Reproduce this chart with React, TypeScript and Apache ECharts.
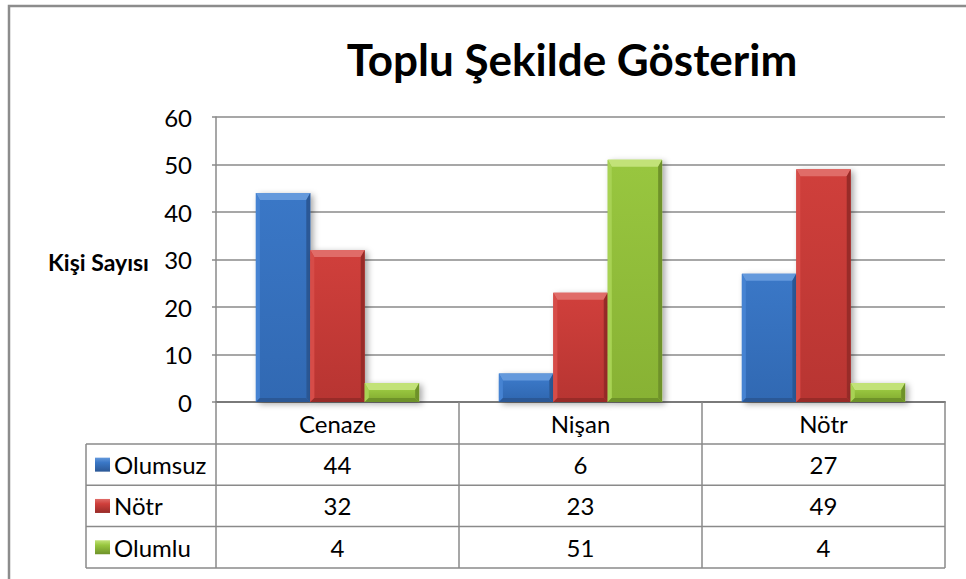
import React, { useEffect, useRef } from 'react';
import * as echarts from 'echarts';

const categories = ['Cenaze', 'Nişan', 'Nötr'];
const seriesNames = ['Olumsuz', 'Nötr', 'Olumlu'];
const olumsuzValues = [44, 6, 27];
const notrValues = [32, 23, 49];
const olumluValues = [4, 51, 4];
const chartTitle = 'Toplu Şekilde Gösterim';
const yAxisTitle = 'Kişi Sayısı';

const FONT = 'Lato, "Open Sans", sans-serif';
const LINE = '#8a8a8a';
const FS = 24;

const palettes = [
  { base: '#3a77c6', top: '#6499dc', left: '#4683d2', dark: '#2b5896', lo: '#3169b3' },
  { base: '#cf3f3b', top: '#e06c68', left: '#d64c48', dark: '#982b28', lo: '#b83532' },
  { base: '#98c63f', top: '#c2e278', left: '#a8d254', dark: '#6e9229', lo: '#88b234' },
];

const GRID = { left: 216, right: 21, top: 117, bottom: 177 };
const BAR_FRAC = 0.672;

function bevelBar(idx: number) {
  const pal = palettes[idx];
  return (params: any, api: any) => {
    const cat = api.value(0);
    const val = api.value(1);
    const p0 = api.coord([cat, 0]);
    const p1 = api.coord([cat, val]);
    const catW = api.size([1, 0])[0];
    const barW = (catW * BAR_FRAC) / 3;
    const x0 = p0[0] - 1.5 * barW + idx * barW;
    const x1 = x0 + barW;
    const yT = p1[1];
    const yB = p0[1];
    const h = yB - yT;
    const bt = Math.min(7, h / 2.6);
    const bs = Math.min(4, barW / 3);
    return {
      type: 'group',
      children: [
        {
          type: 'rect',
          shape: { x: x0, y: yT, width: barW, height: h },
          style: {
            fill: pal.base,
            shadowBlur: 6,
            shadowOffsetX: 3,
            shadowOffsetY: 2,
            shadowColor: 'rgba(0,0,0,0.35)',
          },
        },
        {
          type: 'rect',
          shape: { x: x0 + bs, y: yT + bt, width: barW - 2 * bs, height: Math.max(0, h - bt - bs) },
          style: {
            fill: {
              type: 'linear', x: 0, y: 0, x2: 0, y2: 1,
              colorStops: [
                { offset: 0, color: pal.base },
                { offset: 1, color: pal.lo },
              ],
            },
          },
        },
        {
          type: 'polygon',
          shape: { points: [[x0, yT], [x1, yT], [x1 - bs, yT + bt], [x0 + bs, yT + bt]] },
          style: { fill: pal.top },
        },
        {
          type: 'polygon',
          shape: { points: [[x0, yT], [x0 + bs, yT + bt], [x0 + bs, yB - bs], [x0, yB]] },
          style: { fill: pal.left },
        },
        {
          type: 'polygon',
          shape: { points: [[x1, yT], [x1, yB], [x1 - bs, yB - bs], [x1 - bs, yT + bt]] },
          style: { fill: pal.dark },
        },
        {
          type: 'polygon',
          shape: { points: [[x0, yB], [x0 + bs, yB - bs], [x1 - bs, yB - bs], [x1, yB]] },
          style: { fill: pal.dark },
        },
      ],
    };
  };
}

export default function App() {
  const ref = useRef<HTMLDivElement>(null);
  useEffect(() => {
    if (!ref.current) return;
    const chart = echarts.init(ref.current, undefined, { renderer: 'svg' });
    const allValues = [olumsuzValues, notrValues, olumluValues];
    const option: any = {
      animation: false,
      backgroundColor: '#ffffff',
      title: {
        text: chartTitle,
        left: 567,
        top: 32,
        textAlign: 'center',
        textStyle: { fontFamily: FONT, fontWeight: 'bold', fontSize: 44, color: '#000' },
      },
      grid: GRID,
      xAxis: {
        type: 'category',
        data: categories,
        axisLine: { show: true, lineStyle: { color: '#7a7a7a', width: 2 } },
        axisTick: { show: false },
        axisLabel: { show: false },
        splitLine: { show: false },
      },
      yAxis: {
        type: 'value',
        min: 0,
        max: 60,
        interval: 10,
        axisLine: { show: true, lineStyle: { color: LINE, width: 1.5 } },
        axisTick: { show: true, length: 4, lineStyle: { color: LINE, width: 1.5 } },
        axisLabel: { fontFamily: FONT, fontSize: FS, color: '#000', margin: 24 },
        splitLine: { show: true, lineStyle: { color: LINE, width: 1.5 } },
      },
      series: allValues.map((vals, idx) => ({
        type: 'custom',
        name: seriesNames[idx],
        data: vals.map((v, i) => [i, v]),
        encode: { x: 0, y: 1 },
        renderItem: bevelBar(idx),
        z: 3,
      })),
    };
    chart.setOption(option);

    const c0 = chart.convertToPixel({ xAxisIndex: 0 }, 0) as number;
    const c1 = chart.convertToPixel({ xAxisIndex: 0 }, 1) as number;
    const colW = c1 - c0;
    const yZero = chart.convertToPixel({ yAxisIndex: 0 }, 0) as number;
    const plotLeft = c0 - colW / 2;
    const plotRight = plotLeft + colW * categories.length;
    const headerH = 42;
    const rowH = 41.3;
    const legLeft = 86;
    const tableBottom = yZero + headerH + rowH * seriesNames.length;

    const g: any[] = [];
    g.push({
      type: 'rect',
      shape: { x: 9, y: 6, width: 1000, height: 1000 },
      style: { fill: 'none', stroke: '#8c8c8c', lineWidth: 2.5 },
      z: 0,
    });
    g.push({
      type: 'text',
      x: 149,
      y: (GRID.top + yZero) / 2 + 2,
      style: {
        text: yAxisTitle, fontFamily: FONT, fontWeight: 'bold', fontSize: 23,
        fill: '#000', align: 'right', verticalAlign: 'middle',
      },
    });
    const line = (x1: number, y1: number, x2: number, y2: number) => ({
      type: 'line',
      shape: { x1, y1, x2, y2 },
      style: { stroke: LINE, lineWidth: 1.5 },
      z: 5,
    });
    for (let i = 0; i <= categories.length; i++) {
      const x = plotLeft + colW * i;
      g.push(line(x, yZero, x, tableBottom));
    }
    g.push(line(legLeft, yZero + headerH, legLeft, tableBottom));
    for (let r = 0; r <= seriesNames.length; r++) {
      const y = yZero + headerH + rowH * r;
      g.push(line(legLeft, y, plotRight, y));
    }
    categories.forEach((c, i) => {
      g.push({
        type: 'text',
        x: c0 + colW * i,
        y: yZero + headerH / 2,
        style: { text: c, fontFamily: FONT, fontSize: FS, fill: '#000', align: 'center', verticalAlign: 'middle' },
        z: 6,
      });
    });
    seriesNames.forEach((name, r) => {
      const yc = yZero + headerH + rowH * r + rowH / 2;
      const pal = palettes[r];
      g.push({
        type: 'rect',
        shape: { x: 95, y: yc - 7, width: 15, height: 14 },
        style: {
          fill: {
            type: 'linear', x: 0, y: 0, x2: 0, y2: 1,
            colorStops: [
              { offset: 0, color: pal.top },
              { offset: 0.35, color: pal.base },
              { offset: 1, color: pal.dark },
            ],
          },
        },
        z: 6,
      });
      g.push({
        type: 'text',
        x: 114,
        y: yc,
        style: { text: name, fontFamily: FONT, fontSize: FS, fill: '#000', align: 'left', verticalAlign: 'middle' },
        z: 6,
      });
      allValues[r].forEach((v, i) => {
        g.push({
          type: 'text',
          x: c0 + colW * i,
          y: yc,
          style: { text: String(v), fontFamily: FONT, fontSize: FS, fill: '#000', align: 'center', verticalAlign: 'middle' },
          z: 6,
        });
      });
    });
    chart.setOption({ graphic: g });

    return () => chart.dispose();
  }, []);
  return (
    <div
      ref={ref}
      style={{ position: 'fixed', left: 0, top: 0, width: 966, height: 579 }}
    />
  );
}
